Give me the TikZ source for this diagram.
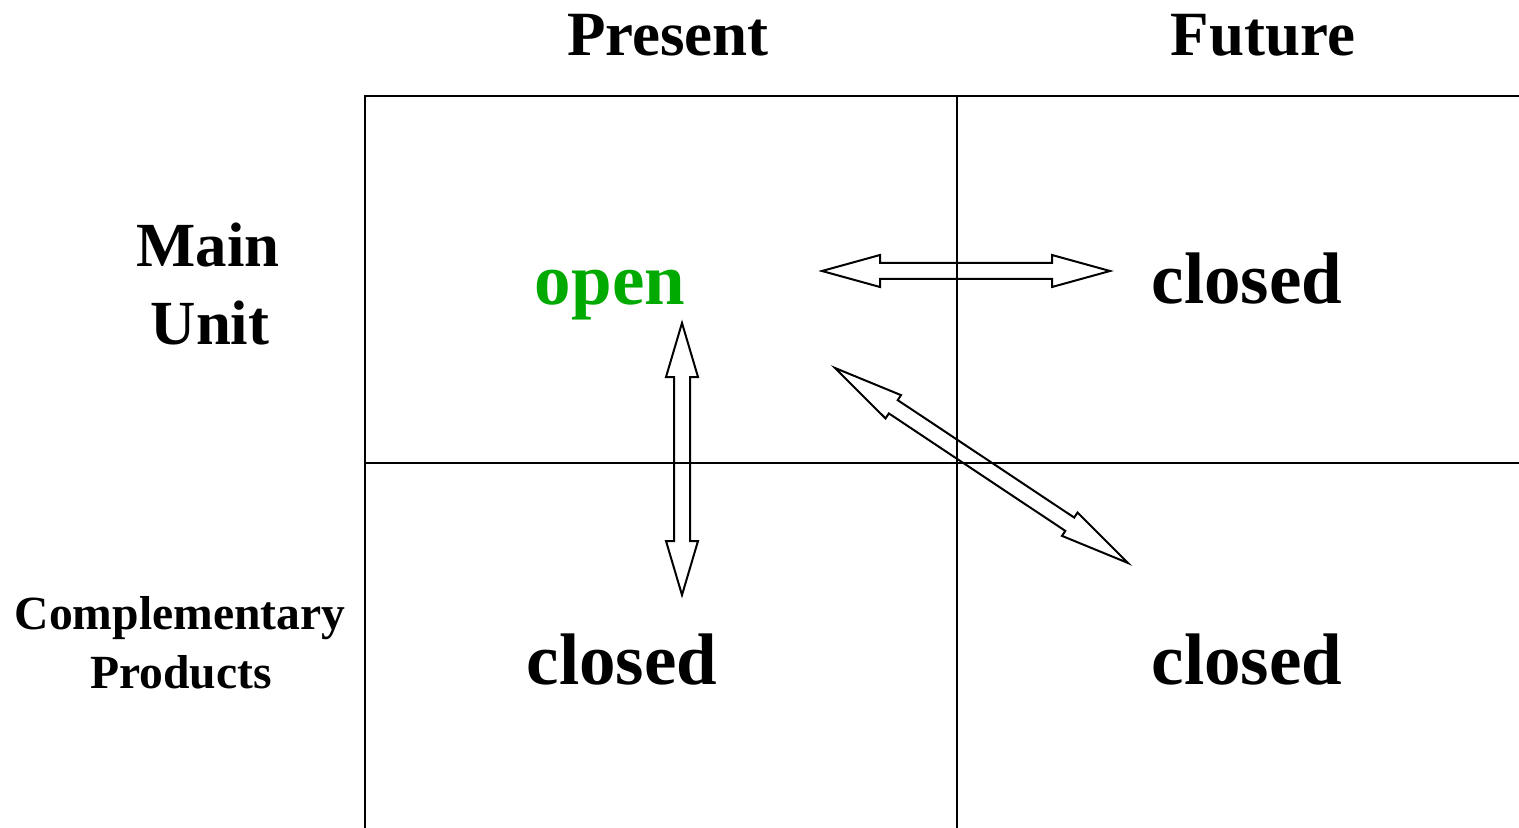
\documentclass[tikz,border=0pt]{standalone}
\usepackage{fontspec}
\setmainfont{Liberation Serif}
\usetikzlibrary{calc}
\definecolor{opengreen}{RGB}{0,170,0}

% Outlined double-headed block arrow between two named points.
% #1 head length, #2 head half-width, #3 start, #4 end
\newcommand\dblarrow[4]{%
  \draw[arrowline] (#3)
    -- ($(#3)!#1!(#4)!#2!90:(#4)$)
    -- ($(#3)!#1!(#4)!4pt!90:(#4)$)
    -- ($(#4)!#1!(#3)!4pt!-90:(#3)$)
    -- ($(#4)!#1!(#3)!#2!-90:(#3)$)
    -- (#4)
    -- ($(#4)!#1!(#3)!#2!90:(#3)$)
    -- ($(#4)!#1!(#3)!4pt!90:(#3)$)
    -- ($(#3)!#1!(#4)!4pt!-90:(#4)$)
    -- ($(#3)!#1!(#4)!#2!-90:(#4)$)
    -- cycle;}

\begin{document}
\begin{tikzpicture}[x=0.5pt,y=-0.5pt,
  gridline/.style={line width=1pt},
  arrowline/.style={line width=1pt, line join=miter},
  head/.style={anchor=base, inner sep=0pt, font=\bfseries\fontsize{31.5pt}{36pt}\selectfont},
  side/.style={anchor=base, inner sep=0pt, font=\bfseries\fontsize{31.4pt}{36pt}\selectfont},
  sidesmall/.style={anchor=base, inner sep=0pt, font=\bfseries\fontsize{23.8pt}{28pt}\selectfont},
  state/.style={anchor=base, inner sep=0pt, font=\bfseries\fontsize{36.5pt}{42pt}\selectfont}]
\useasboundingbox (0,0) rectangle (1519,828);

% grid
\draw[gridline] (365,828) -- (365,96) -- (1519,96);
\draw[gridline] (957,96) -- (957,828);
\draw[gridline] (365,463) -- (1519,463);

% column headings
\node[head] (present) at (668,56) {Present};
\node[head] (future) at (1263,56) {Future};

% row headings
\node[side] (main) at (208,267) {Main};
\node[side] (unit) at (210,344) {Unit};
\node[sidesmall] (compl) at (180,629) {Complementary};
\node[sidesmall] (prod) at (181,688) {Products};

% cell states
\node[state, text=opengreen] (open) at (610,305) {open};
\node[state] (closedFP) at (1247,304) {closed};
\node[state] (closedPC) at (622,684) {closed};
\node[state] (closedFC) at (1247,684) {closed};

% arrow end points
\coordinate (hA) at (822,271);
\coordinate (hB) at (1110,271);
\coordinate (vA) at (682,323);
\coordinate (vB) at (682,595);
\coordinate (dA) at (835,368);
\coordinate (dB) at (1128,563);

\dblarrow{29pt}{8pt}{hA}{hB}
\dblarrow{27pt}{8pt}{vA}{vB}
\dblarrow{35pt}{7pt}{dA}{dB}
\end{tikzpicture}
\end{document}
